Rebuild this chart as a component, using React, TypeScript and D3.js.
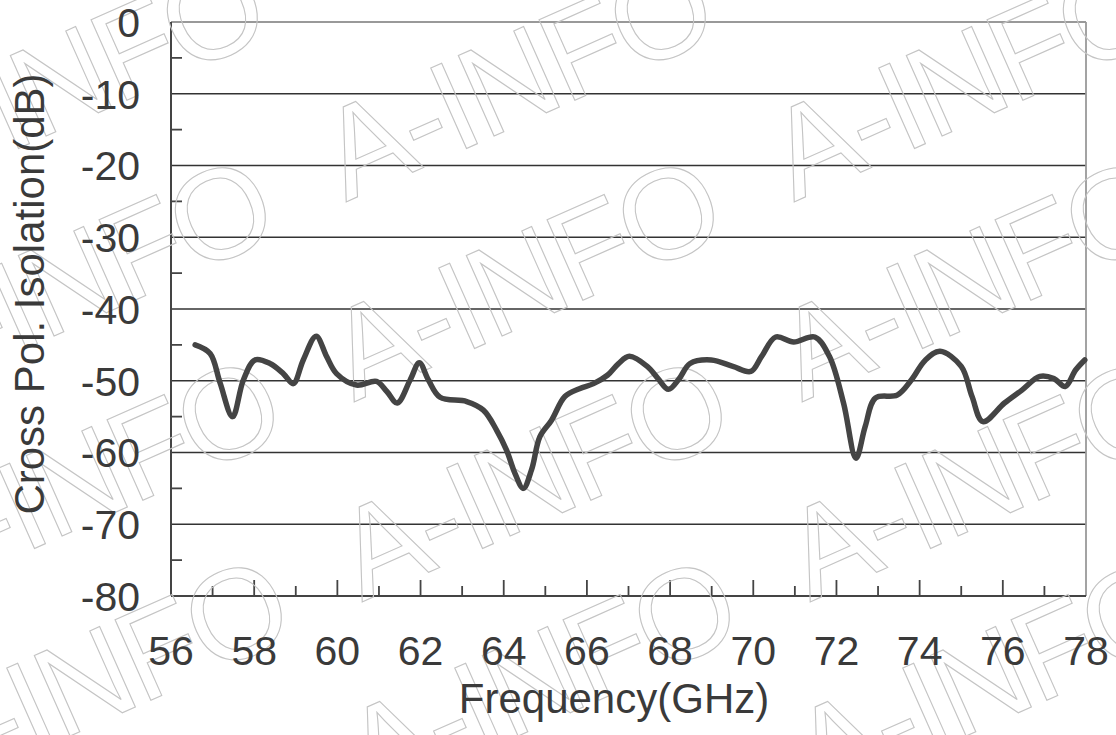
import React from "react";
import * as d3 from "d3";

const FREQ = [
  56.58, 56.94, 57.18, 57.48, 57.74, 58.02, 58.38, 58.7, 58.94, 59.18, 59.49, 59.74, 59.98,
  60.46, 60.94, 61.19, 61.44, 61.75, 61.97, 62.19, 62.47, 63.11, 63.51, 63.83, 64.07, 64.27,
  64.47, 64.67, 64.87, 65.15, 65.47, 65.82, 66.16, 66.5, 66.76, 67.02, 67.45, 67.71, 67.96,
  68.22, 68.48, 68.99, 69.51, 69.94, 70.2, 70.54, 70.97, 71.48, 71.83, 72.17, 72.47, 72.69,
  72.94, 73.46, 73.8, 74.14, 74.49, 75.0, 75.26, 75.52, 76.04, 76.46, 76.89, 77.23, 77.5,
  77.75, 77.97,
];
const ISOLATION = [
  -45.0, -46.2, -50.3, -55.0, -49.9, -47.1, -47.6, -49.0, -50.4, -47.1, -43.8, -46.6, -49.0,
  -50.6, -50.1, -51.5, -53.1, -49.9, -47.5, -49.9, -52.3, -52.9, -54.1, -56.9, -59.7, -62.9,
  -65.0, -62.4, -57.8, -55.5, -52.2, -51.1, -50.4, -49.2, -47.6, -46.6, -48.0, -49.7, -51.2,
  -49.7, -47.6, -47.1, -48.0, -48.7, -46.6, -43.9, -44.6, -43.9, -46.6, -53.1, -60.8, -56.4,
  -52.4, -52.0, -49.9, -47.1, -45.9, -48.0, -52.2, -55.7, -53.1, -51.3, -49.4, -49.7, -50.8,
  -48.5, -47.1,
];
const Y_TICKS = [0, -10, -20, -30, -40, -50, -60, -70, -80];
const Y_MINOR = [-5, -15, -25, -35, -45, -55, -65, -75];
const X_TICKS = [56, 58, 60, 62, 64, 66, 68, 70, 72, 74, 76, 78];
const X_MINOR = [57, 58, 59, 60, 61, 62, 63, 64, 65, 66, 67, 68, 69, 70, 71, 72, 73, 74, 75, 76, 77];
const X_TITLE = "Frequency(GHz)";
const Y_TITLE = "Cross Pol. Isolation(dB)";
const WATERMARK = "A-INFO";
const WM_COLS = [0, 1, 2];
const WM_ROWS = [0, 1, 2, 3];

const W = 1116;
const H = 735;
const L = 171, R = 1086, T = 22, B = 596;
const FONT = "'Liberation Sans', Arial, Helvetica, sans-serif";
const TXT = "#3a3a3a";

export default function App() {
  const x = d3.scaleLinear().domain([56, 78]).range([L, R]);
  const y = d3.scaleLinear().domain([0, -80]).range([T, B]);
  const pts = FREQ.map((f, i) => [f, ISOLATION[i]] as [number, number]);
  const line = d3
    .line<[number, number]>()
    .x((d) => x(d[0]))
    .y((d) => y(d[1]))
    .curve(d3.curveCatmullRom.alpha(0.5));

  const wm: { ax: number; ay: number; key: string }[] = [];
  WM_COLS.forEach((c) =>
    WM_ROWS.forEach((r) => {
      const ox = 210 + 448 * c + 8 * r;
      const oy = 10 + 200 * r;
      wm.push({ ax: ox - 312, ay: oy + 192, key: `${c}-${r}` });
    })
  );

  return (
    <svg
      width={W}
      height={H}
      viewBox={`0 0 ${W} ${H}`}
      style={{ position: "absolute", left: 0, top: 0, display: "block", background: "#fff" }}
    >
      <rect x={0} y={0} width={W} height={H} fill="#fff" />
      {/* grid */}
      {Y_TICKS.filter((v) => v !== -80).map((v) => (
        <line key={"g" + v} x1={L} x2={R} y1={y(v)} y2={y(v)} stroke={v === 0 ? "#777" : "#333"} strokeWidth={1.6} />
      ))}
      <line x1={R} x2={R} y1={T} y2={B} stroke="#999" strokeWidth={1.8} />
      {/* minor ticks */}
      {Y_MINOR.map((v) => (
        <line key={"ym" + v} x1={L} x2={L + 11} y1={y(v)} y2={y(v)} stroke="#444" strokeWidth={1.8} />
      ))}
      {X_MINOR.map((f) => (
        <line
          key={"xm" + f}
          x1={x(f)}
          x2={x(f)}
          y1={B}
          y2={B - (f % 2 === 0 ? 16 : 10)}
          stroke="#444"
          strokeWidth={1.8}
        />
      ))}
      {/* axes */}
      <line x1={L} x2={L} y1={T} y2={B} stroke="#444" strokeWidth={2} />
      <line x1={L} x2={R} y1={B} y2={B} stroke="#444" strokeWidth={2} />
      {/* watermark */}
      <g fill="none" stroke="#c4c4c4" strokeWidth={1.1}>
        {wm.map((w) => (
          <text
            key={w.key}
            transform={`translate(${w.ax},${w.ay}) rotate(-24)`}
            fontFamily={FONT}
            fontSize={128}
            letterSpacing={-4}
          >
            {WATERMARK}
          </text>
        ))}
      </g>
      {/* data */}
      <path d={line(pts) || ""} fill="none" stroke="#444" strokeWidth={5.5} strokeLinejoin="round" strokeLinecap="round" />
      {/* labels */}
      {Y_TICKS.map((v) => (
        <text key={"yl" + v} x={140} y={y(v)} dy="0.36em" textAnchor="end" fontFamily={FONT} fontSize={41} fill={TXT}>
          {v}
        </text>
      ))}
      {X_TICKS.map((f) => (
        <text key={"xl" + f} x={x(f)} y={665} textAnchor="middle" fontFamily={FONT} fontSize={41} fill={TXT}>
          {f}
        </text>
      ))}
      <text x={614} y={713} textAnchor="middle" fontFamily={FONT} fontSize={42} fill={TXT}>
        {X_TITLE}
      </text>
      <text
        transform="translate(44,294) rotate(-90)"
        textAnchor="middle"
        fontFamily={FONT}
        fontSize={42}
        fill={TXT}
      >
        {Y_TITLE}
      </text>
    </svg>
  );
}
